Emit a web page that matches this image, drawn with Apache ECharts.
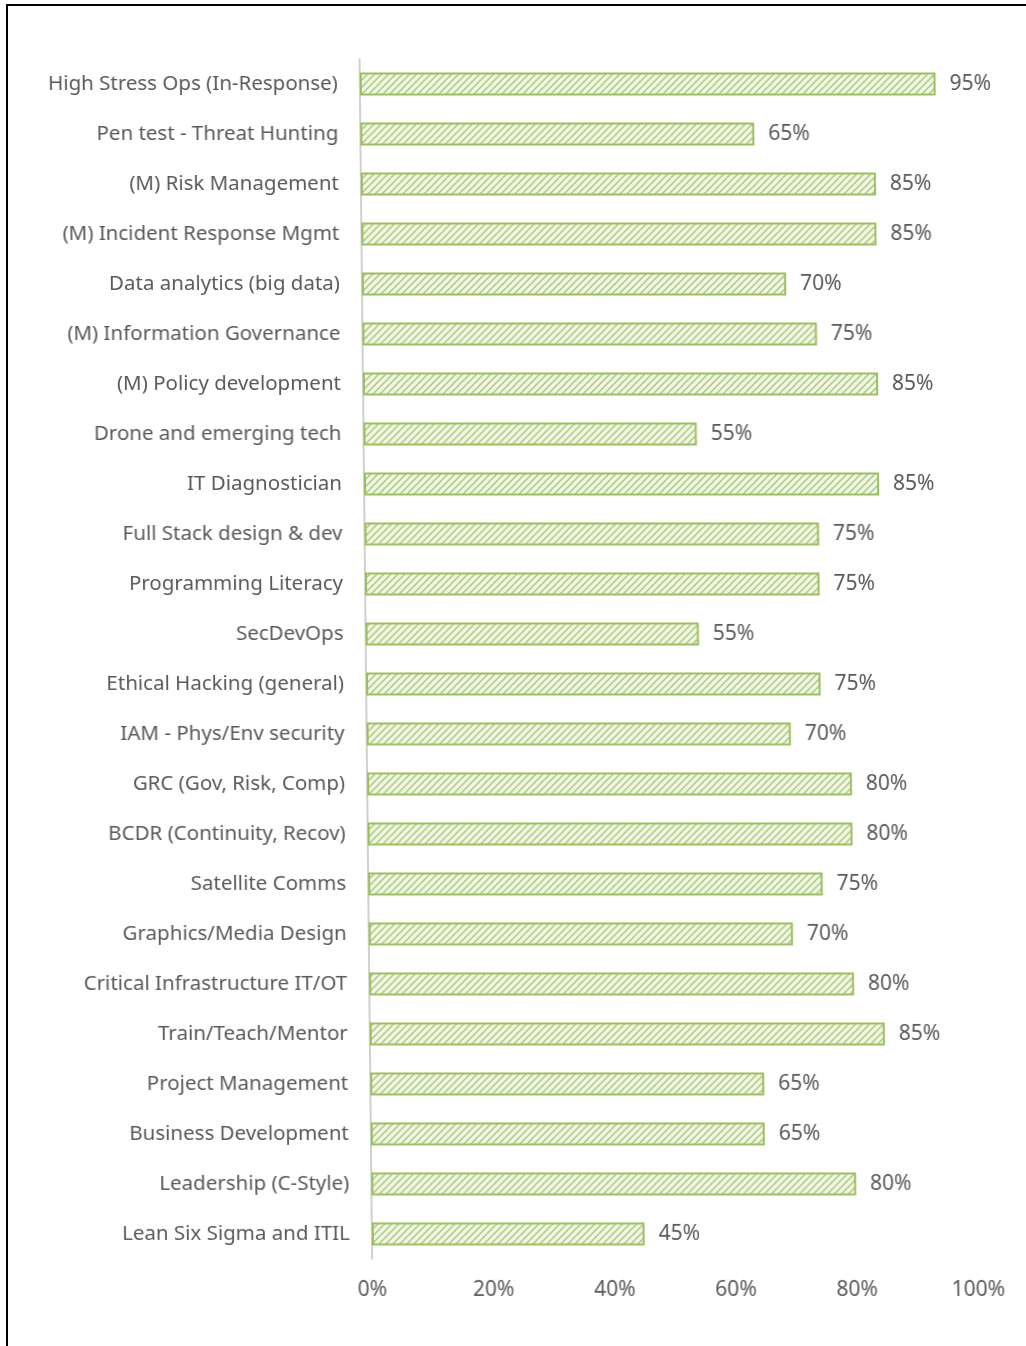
<!DOCTYPE html>
<html>
<head>
<meta charset="utf-8">
<script src="https://cdn.jsdelivr.net/npm/echarts@6/dist/echarts.min.js"></script>
<style>
  html, body { margin: 0; padding: 0; background: #fff; overflow: hidden; }
  #wrap { position: relative; width: 1026px; height: 1346px; }
  #frame { position: absolute; left: 6px; top: 4px; width: 1100px; height: 1400px; border: 2px solid #000; box-sizing: border-box; }
  /* the source is a slightly leaning scan */
  #chart { position: absolute; left: 0; top: 0; width: 1026px; height: 1346px; transform: skewX(0.6deg); }
</style>
</head>
<body>
<div id="wrap">
  <div id="frame"></div>
  <div id="chart"></div>
</div>
<script>
// skills, top to bottom as in the picture
var skills = [
  'High Stress Ops (In-Response)',
  'Pen test - Threat Hunting',
  '(M) Risk Management',
  '(M) Incident Response Mgmt',
  'Data analytics (big data)',
  '(M) Information Governance',
  '(M) Policy development',
  'Drone and emerging tech',
  'IT Diagnostician',
  'Full Stack design & dev',
  'Programming Literacy',
  'SecDevOps',
  'Ethical Hacking (general)',
  'IAM - Phys/Env security',
  'GRC (Gov, Risk, Comp)',
  'BCDR (Continuity, Recov)',
  'Satellite Comms',
  'Graphics/Media Design',
  'Critical Infrastructure IT/OT',
  'Train/Teach/Mentor',
  'Project Management',
  'Business Development',
  'Leadership (C-Style)',
  'Lean Six Sigma and ITIL'
]
// share, in percent
var shares = [95, 65, 85, 85, 70, 75, 85, 55, 85, 75, 75, 55, 75, 70, 80, 80, 75, 70, 80, 85, 65, 65, 80, 45]

// hatch fill like the office "wide upward diagonal" pattern
function hatch() {
  var c = document.createElement('canvas')
  c.width = 7
  c.height = 7
  var g = c.getContext('2d')
  g.fillStyle = '#f1f6e7'
  g.fillRect(0, 0, 7, 7)
  g.strokeStyle = '#a6c872'
  g.lineWidth = 1.4
  g.beginPath()
  g.moveTo(-1, 8); g.lineTo(8, -1)
  g.moveTo(-8, 8); g.lineTo(1, -1)
  g.moveTo(6, 8); g.lineTo(15, -1)
  g.stroke()
  return c
}

var chart = echarts.init(document.getElementById('chart'))
var grey = '#595959'
var font = '"Noto Sans", sans-serif'

chart.setOption({
  animation: false,
  backgroundColor: 'transparent',
  grid: { left: 366, right: 54, top: 59, bottom: 87, containLabel: false },
  xAxis: {
    type: 'value',
    min: 0,
    max: 100,
    interval: 20,
    axisLine: { show: false },
    axisTick: { show: false },
    splitLine: { show: false },
    axisLabel: {
      margin: 21,
      color: grey,
      fontFamily: font,
      fontSize: 21,
      formatter: '{value}%'
    }
  },
  yAxis: {
    type: 'category',
    inverse: true,
    data: skills,
    axisLine: { show: true, lineStyle: { color: '#c0c0c0', width: 1.5 } },
    axisTick: { show: false },
    axisLabel: {
      margin: 22,
      color: grey,
      fontFamily: font,
      fontSize: 20.5
    }
  },
  series: [{
    type: 'bar',
    data: shares,
    barWidth: 23,
    itemStyle: {
      color: { image: hatch(), repeat: 'repeat' },
      borderColor: '#9bbf5e',
      borderWidth: 2
    },
    label: {
      show: true,
      position: 'right',
      distance: 14,
      color: grey,
      fontFamily: font,
      fontSize: 21,
      formatter: '{c}%'
    }
  }]
})
</script>
</body>
</html>
